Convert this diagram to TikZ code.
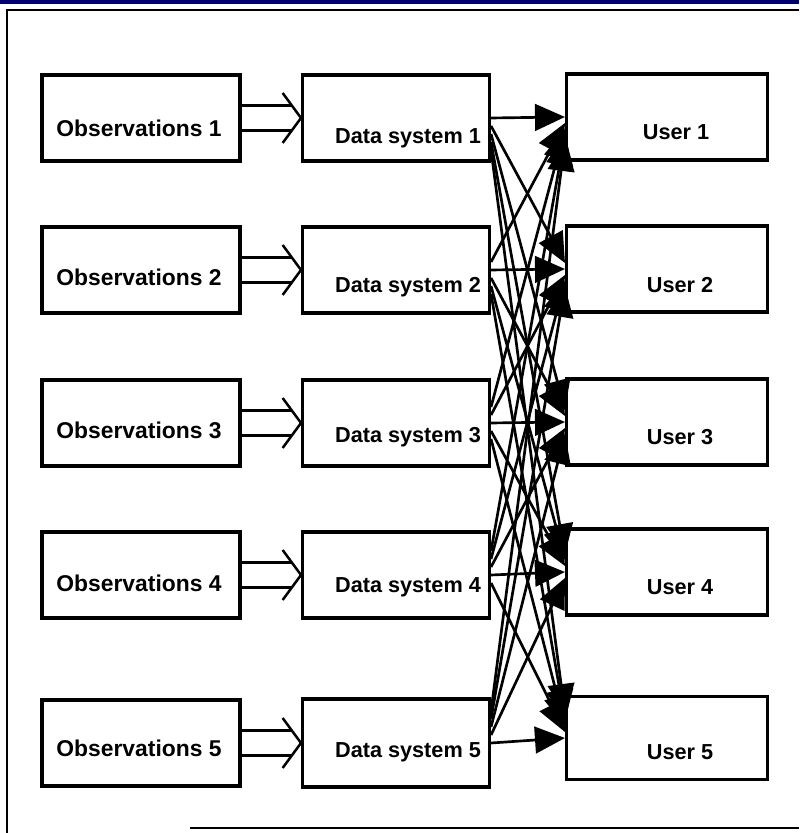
\documentclass[tikz,border=0pt]{standalone}
\usepackage{fontspec}
\setmainfont{Liberation Sans}
\usepackage{tikz}
\usetikzlibrary{arrows.meta}
\definecolor{navyband}{RGB}{0, 0, 112}
\newcommand{\feedarrow}[2]{%
	\draw[feedline] ([yshift = 3.7mm]#1.east) -- ([xshift = -2.8mm, yshift = 3.7mm]#2.west);
	\draw[feedline] ([yshift = -3.7mm]#1.east) -- ([xshift = -2.8mm, yshift = -3.7mm]#2.west);
	\draw[feedline, line join = miter] ([xshift = -5.5mm, yshift = 7.5mm]#2.west) -- (#2.west) -- ([xshift = -5.5mm, yshift = -7.5mm]#2.west);}

\begin{document}
\begin{tikzpicture}[x = 0.3mm, y = 0.3mm,
		box/.style = {draw, line width = 2.6pt, minimum height = 25.8mm, inner sep = 0pt},
		obsbox/.style = {box, minimum width = 59.4mm},
		dsbox/.style = {box, minimum width = 56.1mm},
		userbox/.style = {box, minimum width = 60.3mm},
		lbl/.style = {font = \fontsize{18.5}{20}\selectfont\bfseries, inner sep = 0pt},
		feedline/.style = {line width = 0.75mm},
		link/.style = {line width = 0.8mm, -{Triangle[length = 9mm, width = 8mm]}}]
			\useasboundingbox (0,0) rectangle (799,833);
			% frame of the scan
			\fill[navyband] (0,829) rectangle (799,833);
			\draw[line width = 0.8mm] (7,0) -- (7,823) -- (799,823);
			\draw[line width = 0.45mm] (190,5) -- (799,5);
			% observations
			\node (o1) at (141,715) [obsbox] {};
			\node (o2) at (141,563) [obsbox] {};
			\node (o3) at (141,410) [obsbox] {};
			\node (o4) at (141,258) [obsbox] {};
			\node (o5) at (141,90) [obsbox] {};
			\node (o1t) at (139,705) [lbl, font = \fontsize{19.5}{21}\selectfont\bfseries] {Observations 1};
			\node (o2t) at (139,556) [lbl, font = \fontsize{19.5}{21}\selectfont\bfseries] {Observations 2};
			\node (o3t) at (139,403) [lbl, font = \fontsize{19.5}{21}\selectfont\bfseries] {Observations 3};
			\node (o4t) at (139,250) [lbl, font = \fontsize{19.5}{21}\selectfont\bfseries] {Observations 4};
			\node (o5t) at (139,85) [lbl, font = \fontsize{19.5}{21}\selectfont\bfseries] {Observations 5};
			% data systems
			\node (d1) at (396,715) [dsbox] {};
			\node (d2) at (396,563) [dsbox] {};
			\node (d3) at (396,410) [dsbox] {};
			\node (d4) at (396,258) [dsbox] {};
			\node (d5) at (396,90) [dsbox, minimum height = 26.4mm] {};
			\node (d1t) at (408,695) [lbl] {Data system 1};
			\node (d2t) at (408,546) [lbl] {Data system 2};
			\node (d3t) at (408,396) [lbl] {Data system 3};
			\node (d4t) at (408,246) [lbl] {Data system 4};
			\node (d5t) at (408,81) [lbl] {Data system 5};
			% users
			\node (u1) at (667,716) [userbox] {};
			\node (u2) at (667,564) [userbox] {};
			\node (u3) at (667,411) [userbox] {};
			\node (u4) at (667,261) [userbox] {};
			\node (u5) at (667,95) [userbox, minimum height = 24.9mm] {};
			\node (u1t) at (676,701) [lbl] {User 1};
			\node (u2t) at (680,548) [lbl] {User 2};
			\node (u3t) at (680,396) [lbl] {User 3};
			\node (u4t) at (680,246) [lbl] {User 4};
			\node (u5t) at (680,81) [lbl] {User 5};
			\feedarrow{o1}{d1}
			\feedarrow{o2}{d2}
			\feedarrow{o3}{d3}
			\feedarrow{o4}{d4}
			\feedarrow{o5}{d5}
			\foreach \i in {1,...,5}
				\foreach \j in {1,...,5}
					\draw[link] ([yshift = {(\i-\j)*2.4mm}]d\i.east) -- ([yshift = {(\j-\i)*1.8mm}]u\j.west);
			\end{tikzpicture}
\end{document}
